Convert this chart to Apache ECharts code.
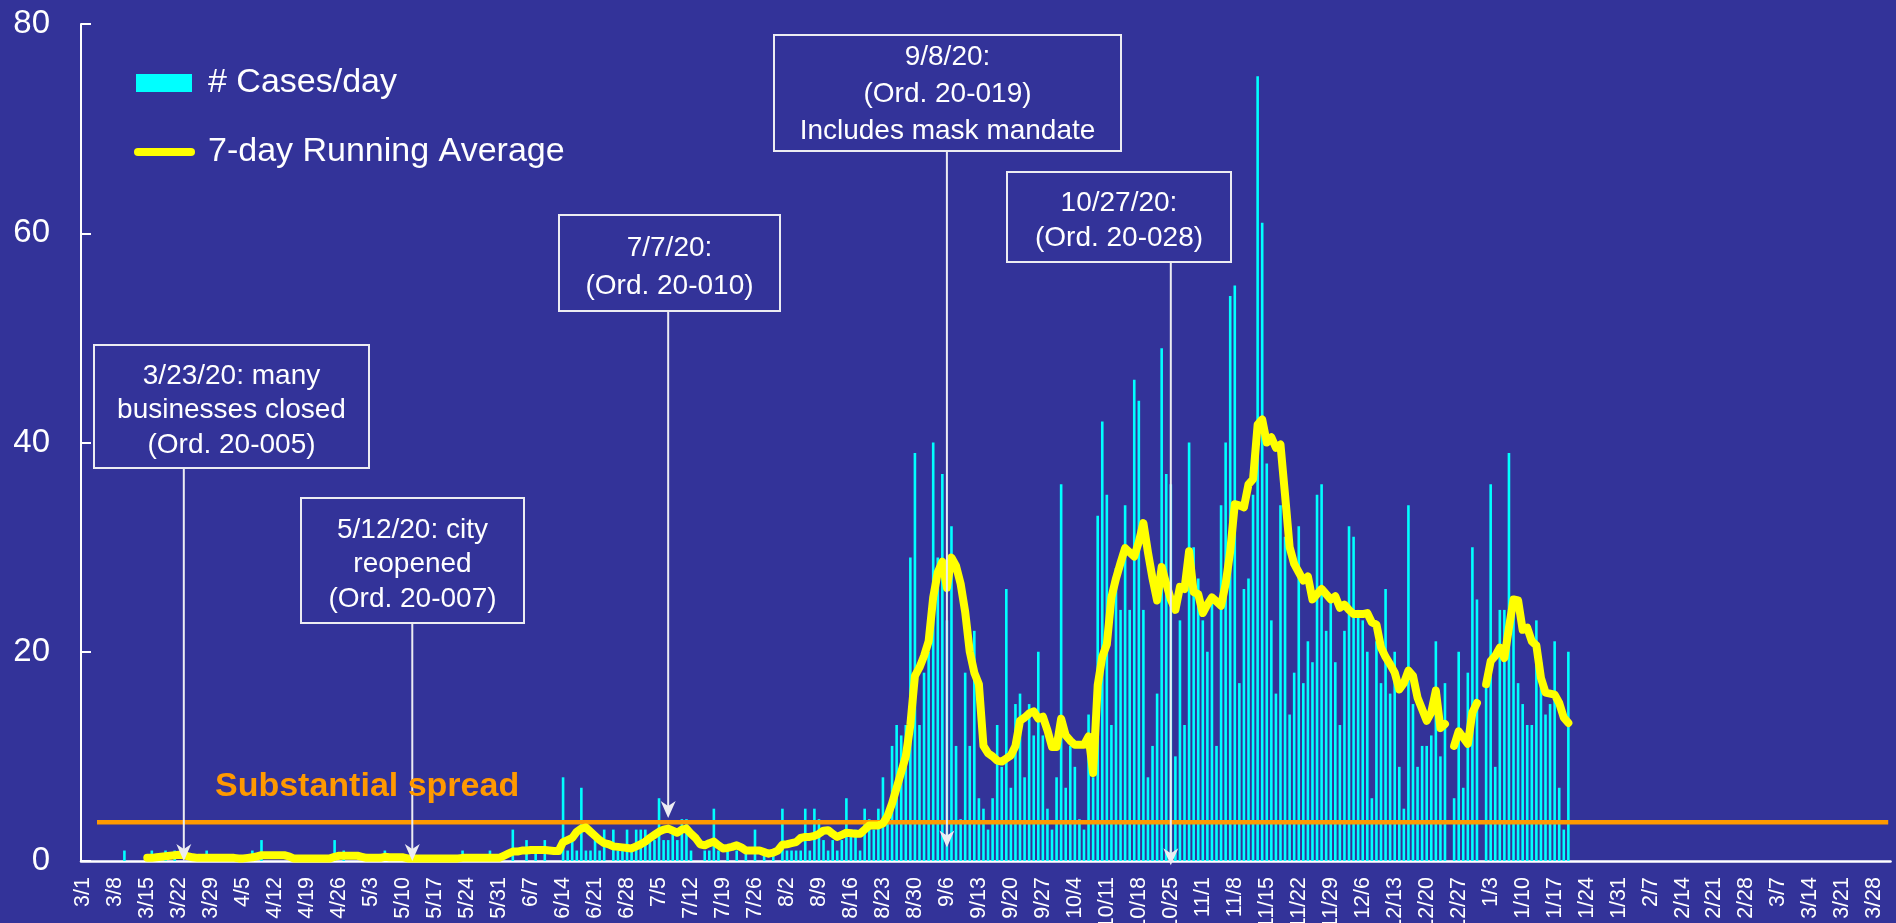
<!DOCTYPE html>
<html><head><meta charset="utf-8">
<script src="https://cdn.jsdelivr.net/npm/echarts@6/dist/echarts.min.js"></script>
<style>html,body{margin:0;padding:0;background:#333399;overflow:hidden}#c{width:1896px;height:923px}</style>
</head><body><div id="c"></div>
<script>
// ---- data ----
const startDate = '2020-03-01';
const dayCount = 396; // 3/1/2020 .. 3/31/2021
const casesPerDay = [
0,0,0,0,0,0,0,0,0,1,
0,0,0,0,0,1,0,0,1,0,
1,0,0,0,0,0,0,1,0,0,
0,0,0,0,0,0,0,1,0,2,
0,0,0,0,0,0,0,0,0,0,
0,0,0,0,0,2,0,1,0,0,
0,0,0,0,0,0,1,0,0,0,
0,0,0,0,0,0,0,0,0,0,
0,0,0,1,0,0,0,0,0,1,
0,0,0,0,3,0,0,2,0,1,
0,2,0,0,0,8,1,2,1,7,
1,1,2,1,3,0,3,1,1,3,
1,3,3,3,2,2,6,2,2,3,
2,4,4,1,0,0,1,1,5,1,
0,1,0,1,0,1,0,3,0,1,
0,1,0,5,1,1,1,1,5,1,
5,4,2,1,2,1,2,6,3,3,
1,5,4,3,5,8,4,11,13,12,
13,29,39,13,18,20,40,29,37,23,
32,11,4,18,11,22,6,5,3,6,
13,9,26,7,15,16,8,15,12,20,
12,5,3,8,36,7,11,9,4,3,
14,8,33,42,35,13,28,24,34,24,
46,44,24,8,11,16,49,37,36,10,
23,13,40,30,27,23,20,25,11,34,
40,54,55,17,26,27,35,75,61,38,
23,16,34,31,14,18,32,17,21,19,
35,36,22,25,19,13,22,32,31,24,
23,20,6,21,17,26,16,20,9,5,
34,15,9,11,11,12,21,10,17,null,
6,20,7,18,30,25,null,17,36,9,
24,24,39,25,17,15,13,13,23,19,
14,15,21,7,3,20
];
const runningAvg = [
null,null,null,null,null,null,null,null,null,null,
null,null,null,null,0.3,0.3,0.35,0.4,0.45,0.5,
0.55,0.6,0.55,0.45,0.35,0.3,0.3,0.3,0.3,0.3,
0.3,0.3,0.3,0.3,0.25,0.25,0.3,0.35,0.45,0.55,
0.55,0.55,0.55,0.55,0.55,0.45,0.25,0.25,0.25,0.25,
0.25,0.25,0.25,0.25,0.25,0.4,0.5,0.5,0.5,0.5,
0.5,0.4,0.3,0.3,0.3,0.3,0.4,0.35,0.35,0.35,
0.35,0.25,0.25,0.25,0.25,0.25,0.25,0.25,0.25,0.25,
0.25,0.25,0.25,0.3,0.3,0.3,0.3,0.3,0.3,0.3,
0.3,0.3,0.5,0.7,0.9,0.9,1.0,1.0,1.05,1.05,
1.05,1.05,1.0,0.95,0.95,1.8,2.0,2.2,2.8,3.1,
3.2,2.8,2.4,2.0,1.7,1.6,1.4,1.35,1.3,1.25,
1.2,1.4,1.6,1.85,2.2,2.5,2.8,3.0,3.1,2.9,
2.7,3.0,3.1,2.6,2.2,1.6,1.5,1.7,1.85,1.5,
1.2,1.25,1.35,1.5,1.3,1.0,1.0,1.0,1.0,0.85,
0.7,0.8,1.0,1.55,1.6,1.7,1.8,2.2,2.3,2.3,
2.4,2.6,2.9,2.95,2.6,2.3,2.5,2.7,2.65,2.6,
2.6,3.0,3.4,3.4,3.4,3.6,4.3,5.5,7.0,8.5,
10.0,13.0,17.7,18.5,19.6,21.0,25.2,27.6,28.6,26.1,
29.0,28.2,26.5,23.8,20.0,18.0,16.9,11.0,10.3,10.0,
9.6,9.5,9.8,10.1,11.0,13.4,13.7,14.1,14.3,13.6,
13.8,12.5,10.9,10.9,13.6,12.0,11.5,11.1,11.1,11.1,
11.9,8.4,16.8,19.5,20.7,25.2,27.0,28.5,29.9,29.5,
29.1,30.5,32.3,29.5,27.0,24.9,28.1,26.5,25.0,24.0,
26.2,26.0,29.6,25.7,25.5,23.7,24.5,25.2,24.8,24.4,
26.5,29.6,34.1,34.0,33.8,36.0,36.5,41.7,42.2,40.0,
40.5,39.5,39.8,35.0,30.0,28.4,27.6,26.8,27.2,25.0,
25.5,26.0,25.5,25.0,25.3,24.2,24.5,24.0,23.6,23.6,
23.6,23.7,22.8,22.6,20.4,19.5,18.8,18.0,16.4,17.0,
18.2,17.7,15.6,14.5,13.4,14.2,16.3,12.7,13.1,null,
11.0,12.4,11.8,11.2,14.2,15.1,null,16.9,19.1,19.6,
20.4,19.4,22.3,25.0,24.9,22.1,22.3,21.0,20.6,17.5,
16.1,16.0,15.9,15.1,13.7,13.2
];
const spreadThreshold = 3.7;
const spreadFrom = '2020-03-04';
const spreadTo = '2021-03-31';
const yMin = 0, yMax = 80, yStep = 20;
const annotationTexts = [
  ['3/23/20: many','businesses closed','(Ord. 20-005)'],
  ['5/12/20: city','reopened','(Ord. 20-007)'],
  ['7/7/20:','(Ord. 20-010)'],
  ['9/8/20:','(Ord. 20-019)','Includes mask mandate'],
  ['10/27/20:','(Ord. 20-028)']
];
const annotationArrowDates = ['2020-03-23','2020-05-12','2020-07-07','2020-09-06','2020-10-25'];
const annotationArrowTips = [0, 0, 4.1, 1.3, -0.4];

// ---- layout (pixels) ----
const boxLayout = [
  {x:94,  y:345, w:275, h:123, lh:34.5, dy:4},
  {x:301, y:498, w:223, h:125, lh:34.5, dy:4},
  {x:559, y:215, w:221, h:96,  lh:38,   dy:4},
  {x:774, y:35,  w:347, h:116, lh:37,   dy:1},
  {x:1007,y:172, w:224, h:90,  lh:35,   dy:4}
];

// categories
const categories = [];
{
  const d0 = new Date(startDate + 'T00:00:00Z');
  for (let i = 0; i < dayCount; i++) {
    const d = new Date(d0.getTime() + i * 86400000);
    categories.push(d.toISOString().slice(0, 10));
  }
}
const fmt = v => { const p = v.split('-'); return (+p[1]) + '/' + (+p[2]); };
const spreadData = categories.map(c => (c === spreadFrom || c === spreadTo) ? spreadThreshold : null);

const FONT = '"Liberation Sans", Arial, sans-serif';
const chart = echarts.init(document.getElementById('c'), null, {renderer: 'canvas'});
chart.setOption({
  backgroundColor: '#333399',
  animation: false,
  grid: {left: 81, right: 5.5, top: 24, bottom: 62, containLabel: false, outerBoundsMode: 'none'},
  legend: [
    {data: [{name: '# Cases/day', icon: 'rect'}], left: 136, top: 63, padding: 0, selectedMode: false,
     itemWidth: 56, itemHeight: 18,
     textStyle: {color: '#fff', fontSize: 34, fontFamily: FONT, lineHeight: 40, padding: [0,0,0,11]}},
    {data: [{name: '7-day Running Average', icon: 'path://M4,0 L57,0 A4,4 0 0 1 57,8 L4,8 A4,4 0 0 1 4,0 Z'}], left: 134, top: 132, padding: 0, selectedMode: false,
     itemWidth: 61, itemHeight: 8,
     textStyle: {color: '#fff', fontSize: 34, fontFamily: FONT, lineHeight: 40, padding: [0,0,0,8]}}
  ],
  xAxis: {
    type: 'category', data: categories, boundaryGap: true,
    axisLine: {lineStyle: {color: '#ffffff', width: 2.5}},
    axisTick: {show: false},
    axisLabel: {interval: 6, rotate: 90, color: '#fff', fontSize: 21.5, fontFamily: FONT, margin: 16, formatter: fmt, hideOverlap: false},
    splitLine: {show: false}
  },
  yAxis: {
    type: 'value', min: yMin, max: yMax, interval: yStep,
    axisLine: {show: true, lineStyle: {color: '#ffffff', width: 2}},
    axisTick: {show: true, inside: true, length: 10, lineStyle: {color: '#ffffff', width: 2}},
    axisLabel: {color: '#fff', fontSize: 33, fontFamily: FONT, margin: 31},
    splitLine: {show: false}
  },
  series: [
    {name: '# Cases/day', type: 'bar', data: casesPerDay, barWidth: 2.6, z: 2, silent: true,
     itemStyle: {color: '#00FFFF'}},
    {name: 'threshold', type: 'line', data: spreadData, connectNulls: true, symbol: 'none', z: 3, silent: true,
     lineStyle: {color: '#FF9900', width: 4.5}},
    {name: '7-day Running Average', type: 'line', data: runningAvg, connectNulls: false, symbol: 'none', z: 4, silent: true,
     itemStyle: {color: '#FFFF00'},
     lineStyle: {color: '#FFFF00', width: 8, cap: 'round', join: 'round'}}
  ]
});

// annotations positioned through the axes
const g = [];
annotationTexts.forEach((lines, i) => {
  const b = boxLayout[i];
  const ax = chart.convertToPixel({xAxisIndex: 0}, annotationArrowDates[i]);
  const tipY = chart.convertToPixel({yAxisIndex: 0}, annotationArrowTips[i]);
  const col = '#ececf2';
  g.push({type: 'rect', shape: {x: b.x, y: b.y, width: b.w, height: b.h}, style: {fill: 'none', stroke: col, lineWidth: 2}, z: 10});
  g.push({type: 'text', z: 11, style: {text: lines.join('\n'), x: b.x + b.w / 2, y: b.y + b.h / 2 + b.dy, align: 'center', verticalAlign: 'middle',
    fill: '#ffffff', font: '28px ' + FONT, lineHeight: b.lh}});
  g.push({type: 'line', z: 10, shape: {x1: ax, y1: b.y + b.h + 1, x2: ax, y2: tipY - 6}, style: {stroke: col, lineWidth: 2}});
  g.push({type: 'polygon', z: 10, shape: {points: [[ax, tipY], [ax - 7.5, tipY - 17], [ax, tipY - 12], [ax + 7.5, tipY - 17]]}, style: {fill: col}});
});
const thrY = chart.convertToPixel({yAxisIndex: 0}, spreadThreshold);
g.push({type: 'text', z: 11, style: {text: 'Substantial spread', x: 215, y: thrY - 36, verticalAlign: 'middle',
  fill: '#FF9900', font: 'bold 34px ' + FONT}});
chart.setOption({graphic: g});
</script>
</body></html>
